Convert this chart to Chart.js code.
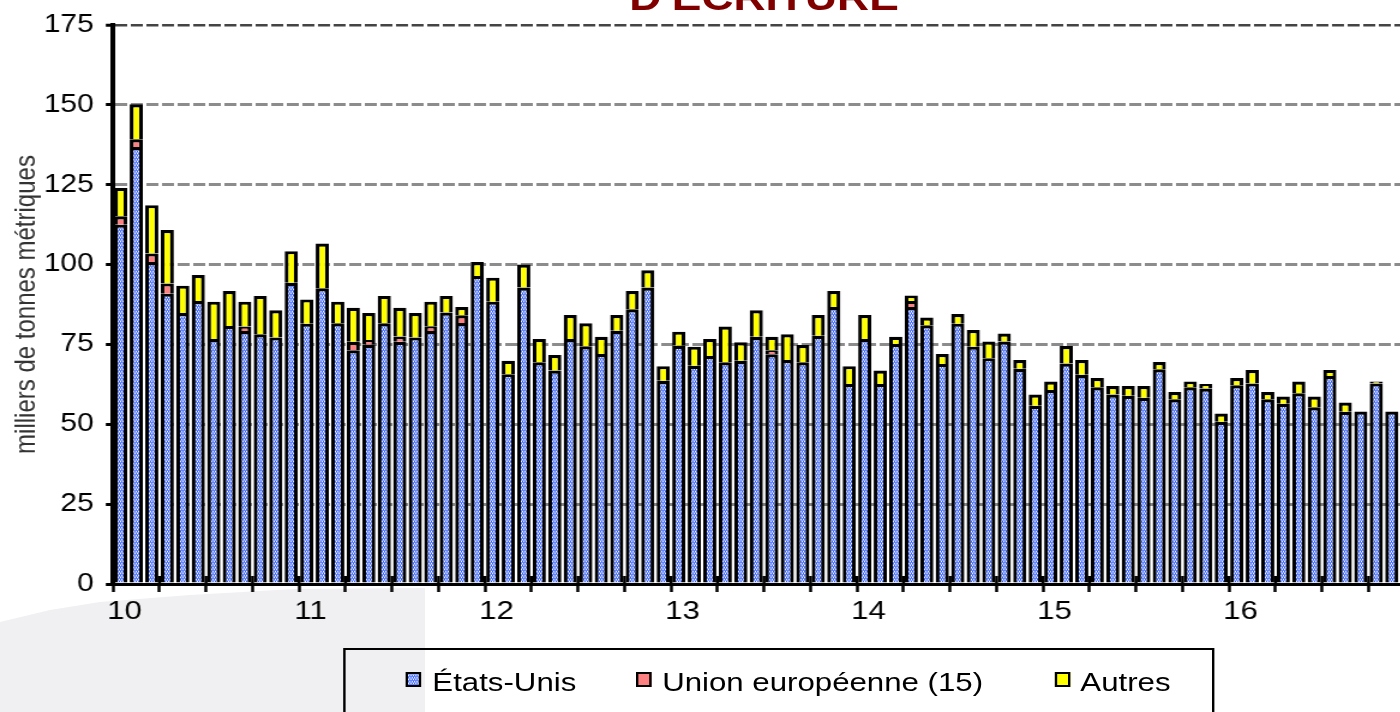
<!DOCTYPE html>
<html>
<head>
<meta charset="utf-8">
<script src="https://cdn.jsdelivr.net/npm/chart.js@4/dist/chart.umd.min.js"></script>
<style>
  html, body { margin: 0; padding: 0; background: #fff; width: 1400px; height: 712px; overflow: hidden; }
  #shade { position: absolute; left: 0; top: 0; width: 1400px; height: 712px; z-index: 0; }
  #wrap { position: absolute; left: 0; top: 0; width: 1200px; height: 712px; transform: scaleX(1.2); transform-origin: 0 0; z-index: 1; }
  #c { position: absolute; left: 0; top: 0; }
  #title { position: absolute; left: 94.17px; width: 1085px; top: -20.8px; text-align: center; font: bold 37px/37px "Liberation Sans", Arial, sans-serif; color: #800000; white-space: nowrap; }
  #legend { position: absolute; left: 285.8px; top: 648px; width: 726.7px; height: 90px; border: 2px solid #000; box-sizing: border-box; font-family: "Liberation Sans", Arial, sans-serif; }
  .sw { position: absolute; top: 22px; width: 13.3px; height: 15px; border: 2.5px solid #000; box-sizing: border-box; }
  .lt { position: absolute; top: 19px; font-size: 26px; line-height: 26px; color: #000; white-space: nowrap; }
</style>
</head>
<body>
<svg id="shade" width="1400" height="712"><polygon points="0,622 50,610 100,602 190,595 295,589 425,588 425,712 0,712" fill="#f0f0f2"/></svg>
<div id="wrap">
  <canvas id="c" width="1200" height="712"></canvas>
  <div id="title">D'ÉCRITURE</div>
  <div id="legend">
    <div class="sw" id="swUS" style="left:50px"></div><div class="lt" style="left:72.5px">États-Unis</div>
    <div class="sw" style="left:242px;background:#ff8080"></div><div class="lt" style="left:264px">Union européenne (15)</div>
    <div class="sw" style="left:591px;background:#ffff00"></div><div class="lt" style="left:612.5px">Autres</div>
  </div>
</div>
<script>
// ---- data (monthly, Jan 2010 .. Dec 2016) ----
const yearLabels = ['10', '11', '12', '13', '14', '15', '16'];
const categories = [];
for (const yy of yearLabels) for (let m = 1; m <= 12; m++) categories.push('20' + yy + '-' + (m < 10 ? '0' : '') + m);

const etatsUnis = [
  112.5, 136.8, 100.8, 90.9, 84.8, 88.6, 76.7, 80.8, 79.2, 78.2, 77.2, 94.3,
  81.5, 92.6, 81.6, 73.2, 74.9, 81.6, 75.8, 77.2, 79.2, 85.0, 81.7, 96.4,
  88.4, 65.7, 92.8, 69.4, 66.8, 76.7, 74.4, 72.0, 79.3, 86.0, 92.8, 63.6,
  74.6, 68.3, 71.4, 69.4, 69.9, 77.4, 71.9, 70.1, 69.4, 77.7, 86.7, 62.6,
  76.7, 62.6, 75.1, 86.7, 81.0, 68.9, 81.5, 74.3, 70.7, 75.9, 67.4, 55.8,
  60.7, 69.0, 65.5, 61.6, 59.3, 58.9, 58.3, 67.2, 57.8, 61.6, 61.2, 50.8,
  62.2, 62.8, 57.8, 56.4, 59.7, 55.3, 65.1, 53.9, 54.0, 62.8, 54.0, 51.0
];
const unionEuropeenne = [
  2.6, 2.4, 2.7, 3.2, 0, 0, 0, 0, 1.4, 0, 0, 0,
  0, 0, 0, 2.6, 1.5, 0, 1.7, 0, 1.5, 0, 2.4, 0,
  0, 0, 0, 0, 0, 0, 0, 0, 0, 0, 0, 0,
  0, 0, 0, 0, 0, 0, 1.3, 0, 0, 0, 0, 0,
  0, 0, 0, 1.9, 0, 0, 0, 0, 0, 0, 0, 0,
  0, 0, 0, 0, 0, 0, 0, 0, 0, 0, 0, 0,
  0, 0, 0, 0, 0, 0, 0, 0, 0, 0, 0, 0
];
const autres = [
  8.9, 11.0, 15.1, 16.7, 8.6, 8.1, 11.7, 10.9, 7.8, 12.0, 8.5, 9.9,
  7.6, 14.0, 6.8, 10.7, 8.4, 8.6, 9.0, 7.6, 7.7, 5.2, 2.6, 4.4,
  7.5, 4.2, 7.2, 7.3, 4.9, 7.5, 7.2, 5.4, 4.9, 5.7, 5.4, 4.6,
  4.4, 6.0, 5.3, 11.2, 5.8, 8.3, 4.2, 8.1, 5.4, 6.5, 5.0, 5.6,
  7.5, 4.2, 2.3, 1.7, 2.4, 3.1, 3.0, 5.2, 5.2, 2.5, 2.7, 3.5,
  2.7, 5.5, 4.6, 2.9, 2.7, 3.1, 3.7, 2.3, 2.3, 1.8, 1.4, 2.6,
  2.3, 4.2, 2.3, 2.3, 3.7, 3.4, 1.9, 2.9, 0, 0.6, 0, 0
];
const seriesNames = ['États-Unis', 'Union européenne (15)', 'Autres'];

// ---- pattern for États-Unis ----
const pc = document.createElement('canvas'); pc.width = 4; pc.height = 4;
const p = pc.getContext('2d');
const B = '#2457ff', L = '#8ea3ff', W = '#ffffff', M = '#6483ff';
const cells = [
  [L, L, L, L],
  [W, B, W, B],
  [M, M, M, M],
  [B, W, B, W]
];
cells.forEach((row, r) => row.forEach((col, c) => { p.fillStyle = col; p.fillRect(c, r, 1, 1); }));
document.getElementById('swUS').style.backgroundImage = 'url(' + pc.toDataURL() + ')';

const canvas = document.getElementById('c');
const ctx2 = canvas.getContext('2d');
const usPattern = ctx2.createPattern(pc, 'repeat');

const FONT = '"Liberation Sans", Arial, sans-serif';

const innerTicks = {
  id: 'innerTicks',
  afterDatasetsDraw(chart) {
    const { ctx, scales: { x, y } } = chart;
    const half = (x.getPixelForValue(1) - x.getPixelForValue(0)) / 2;
    ctx.save();
    ctx.strokeStyle = '#000';
    ctx.lineWidth = 2.5;
    for (let i = 3; i < categories.length; i += 3) {
      const px = x.getPixelForValue(i) - half;
      ctx.beginPath();
      ctx.moveTo(px, y.bottom - 8);
      ctx.lineTo(px, y.bottom);
      ctx.stroke();
    }
    ctx.restore();
  }
};

new Chart(canvas, {
  type: 'bar',
  data: {
    labels: categories,
    datasets: [
      { label: seriesNames[0], data: etatsUnis, backgroundColor: usPattern },
      { label: seriesNames[1], data: unionEuropeenne, backgroundColor: '#ff8080' },
      { label: seriesNames[2], data: autres, backgroundColor: '#ffff00' }
    ]
  },
  options: {
    responsive: false,
    animation: false,
    devicePixelRatio: 1,
    layout: { padding: { left: 0, right: 20.83, top: 23, bottom: 0 } },
    datasets: {
      bar: { barPercentage: 0.85, categoryPercentage: 1.0, borderColor: '#000', borderWidth: 3.2 }
    },
    plugins: { legend: { display: false }, tooltip: { enabled: false }, title: { display: false } },
    scales: {
      x: {
        stacked: true,
        offset: true,
        ticks: {
          autoSkip: false, maxRotation: 0, minRotation: 0,
          font: { family: FONT, size: 26 }, color: '#000', padding: 4, labelOffset: 3,
          callback: (v, i) => (i % 12 === 0 ? yearLabels[i / 12] : '')
        },
        grid: {
          offset: true, drawOnChartArea: false, tickLength: 8, tickWidth: 2.5,
          tickColor: c => (c.index % 3 === 0 ? '#000' : 'rgba(0,0,0,0)')
        },
        border: { color: '#000', width: 3 },
        afterFit: s => { s.height = 128; }
      },
      y: {
        stacked: true, min: 0, max: 175,
        ticks: { stepSize: 25, font: { family: FONT, size: 25 }, color: '#000', padding: 10 },
        grid: {
          color: c => (c.tick.value === 175 ? '#444' : (c.tick.value === 0 ? 'rgba(0,0,0,0)' : '#8c8c8c')),
          lineWidth: c => (c.tick.value === 175 ? 2.5 : 3),
          tickColor: '#000', tickLength: 6, tickWidth: 3
        },
        border: { color: '#000', width: 4, dash: [10, 3] },
        title: {
          display: true, text: 'milliers de tonnes métriques',
          font: { family: FONT, size: 24 }, color: '#333', padding: { top: 8, bottom: 0 }
        },
        afterFit: s => { s.width = 94.17; }
      }
    }
  },
  plugins: [innerTicks]
});
</script>
</body>
</html>
